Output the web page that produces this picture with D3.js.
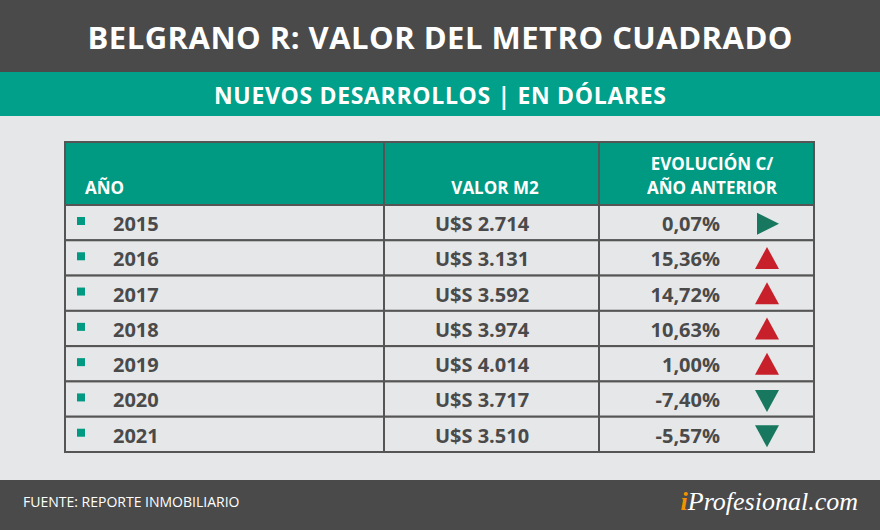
<!DOCTYPE html>
<html>
<head>
<meta charset="utf-8">
<script src="https://cdn.jsdelivr.net/npm/d3@7"></script>
<style>
body { margin: 0; background: #e6e7e8; }
text { font-family: "Open Sans", "DejaVu Sans", sans-serif; font-weight: bold; }
</style>
</head>
<body>
<svg id="chart" width="880" height="530"></svg>
<script>
var years = ["2015", "2016", "2017", "2018", "2019", "2020", "2021"];
var values = ["U$S 2.714", "U$S 3.131", "U$S 3.592", "U$S 3.974", "U$S 4.014", "U$S 3.717", "U$S 3.510"];
var changes = [0.07, 15.36, 14.72, 10.63, 1.00, -7.40, -5.57];
var headers = ["AÑO", "VALOR M2", ["EVOLUCIÓN C/", "AÑO ANTERIOR"]];

var svg = d3.select("#chart");
var teal = "#00a08a", dark = "#4a4a4a", txt = "#4a4a4a";

svg.append("rect").attr("width", 880).attr("height", 530).attr("fill", "#e6e7e8");
svg.append("rect").attr("width", 880).attr("height", 72).attr("fill", dark);
svg.append("rect").attr("y", 72).attr("width", 880).attr("height", 44).attr("fill", teal);
svg.append("rect").attr("y", 480).attr("width", 880).attr("height", 50).attr("fill", dark);

svg.append("text").attr("x", 440).attr("y", 49).attr("text-anchor", "middle")
    .attr("fill", "white").attr("font-size", 31).attr("textLength", 705)
    .text("BELGRANO R: VALOR DEL METRO CUADRADO");
svg.append("text").attr("x", 440).attr("y", 104).attr("text-anchor", "middle")
    .attr("fill", "white").attr("font-size", 23).attr("textLength", 452)
    .text("NUEVOS DESARROLLOS | EN DÓLARES");

// table geometry
var x0 = 65, x1 = 384, x2 = 599, x3 = 814;
var headTop = 142, headBot = 205, tableBot = 452;

var y = d3.scaleBand().domain(years).range([headBot, tableBot]);
var change = d3.format(".2f");

svg.append("rect").attr("x", x0).attr("y", headTop).attr("width", x3 - x0)
    .attr("height", headBot - headTop).attr("fill", "#009a82");

var rows = svg.selectAll("g.row").data(years).enter().append("g").attr("class", "row");
rows.append("rect").attr("x", x0).attr("y", d => y(d)).attr("width", x3 - x0)
    .attr("height", y.bandwidth()).attr("fill", "#e6e7e8")
    .attr("stroke", "#555").attr("stroke-width", 2);
rows.append("rect").attr("x", x0 + 12).attr("y", d => y(d) + 12)
    .attr("width", 8).attr("height", 8).attr("fill", "#009a82");
rows.append("text").attr("x", x0 + 48).attr("y", d => y(d) + 26)
    .attr("font-size", 20).attr("fill", txt).text(d => d);
rows.append("text").attr("x", 482).attr("y", d => y(d) + 26)
    .attr("text-anchor", "middle").attr("font-size", 20).attr("fill", txt)
    .text((d, i) => values[i]);
rows.append("text").attr("x", 720).attr("y", d => y(d) + 26)
    .attr("text-anchor", "end").attr("font-size", 20).attr("fill", txt)
    .text((d, i) => change(changes[i]).replace("−", "-").replace(".", ",") + "%");

rows.append("path")
    .attr("transform", d => "translate(767," + (y(d) + y.bandwidth() / 2 + 1) + ")")
    .attr("d", (d, i) => {
        var c = changes[i];
        if (c < 0.5 && c >= 0) return "M-10,-11L12,0L-10,11Z";
        if (c > 0) return "M0,-12L12,10L-12,10Z";
        return "M-12,-10L12,-10L0,12Z";
    })
    .attr("fill", (d, i) => changes[i] > 0.5 ? "#c8202a" : "#17785f");

// borders
var lines = svg.append("g").attr("stroke", "#555").attr("stroke-width", 2).attr("fill", "none");
lines.append("rect").attr("x", x0).attr("y", headTop).attr("width", x3 - x0).attr("height", tableBot - headTop);
[x1, x2].forEach(x => lines.append("line").attr("x1", x).attr("x2", x).attr("y1", headTop).attr("y2", tableBot));
lines.append("line").attr("x1", x0).attr("x2", x3).attr("y1", headBot).attr("y2", headBot);

svg.append("text").attr("x", x0 + 20).attr("y", 194).attr("fill", "white").attr("font-size", 17).text(headers[0]);
svg.append("text").attr("x", 495).attr("y", 194).attr("text-anchor", "middle").attr("fill", "white").attr("font-size", 17).text(headers[1]);
headers[2].forEach((h, i) => svg.append("text").attr("x", 712).attr("y", 170 + i * 24)
    .attr("text-anchor", "middle").attr("fill", "white").attr("font-size", 17).text(h));

svg.append("text").attr("x", 23).attr("y", 507).attr("fill", "white")
    .attr("font-size", 14).style("font-weight", "normal")
    .text("FUENTE: REPORTE INMOBILIARIO");
var logo = svg.append("text").attr("x", 858).attr("y", 510).attr("text-anchor", "end")
    .attr("font-size", 26).attr("fill", "white")
    .style("font-family", "'Liberation Serif', serif").style("font-style", "italic")
    .style("font-weight", "normal");
logo.append("tspan").attr("fill", "#f39200").style("font-weight", "bold").text("i");
logo.append("tspan").text("Profesional.com");
</script>
</body>
</html>
